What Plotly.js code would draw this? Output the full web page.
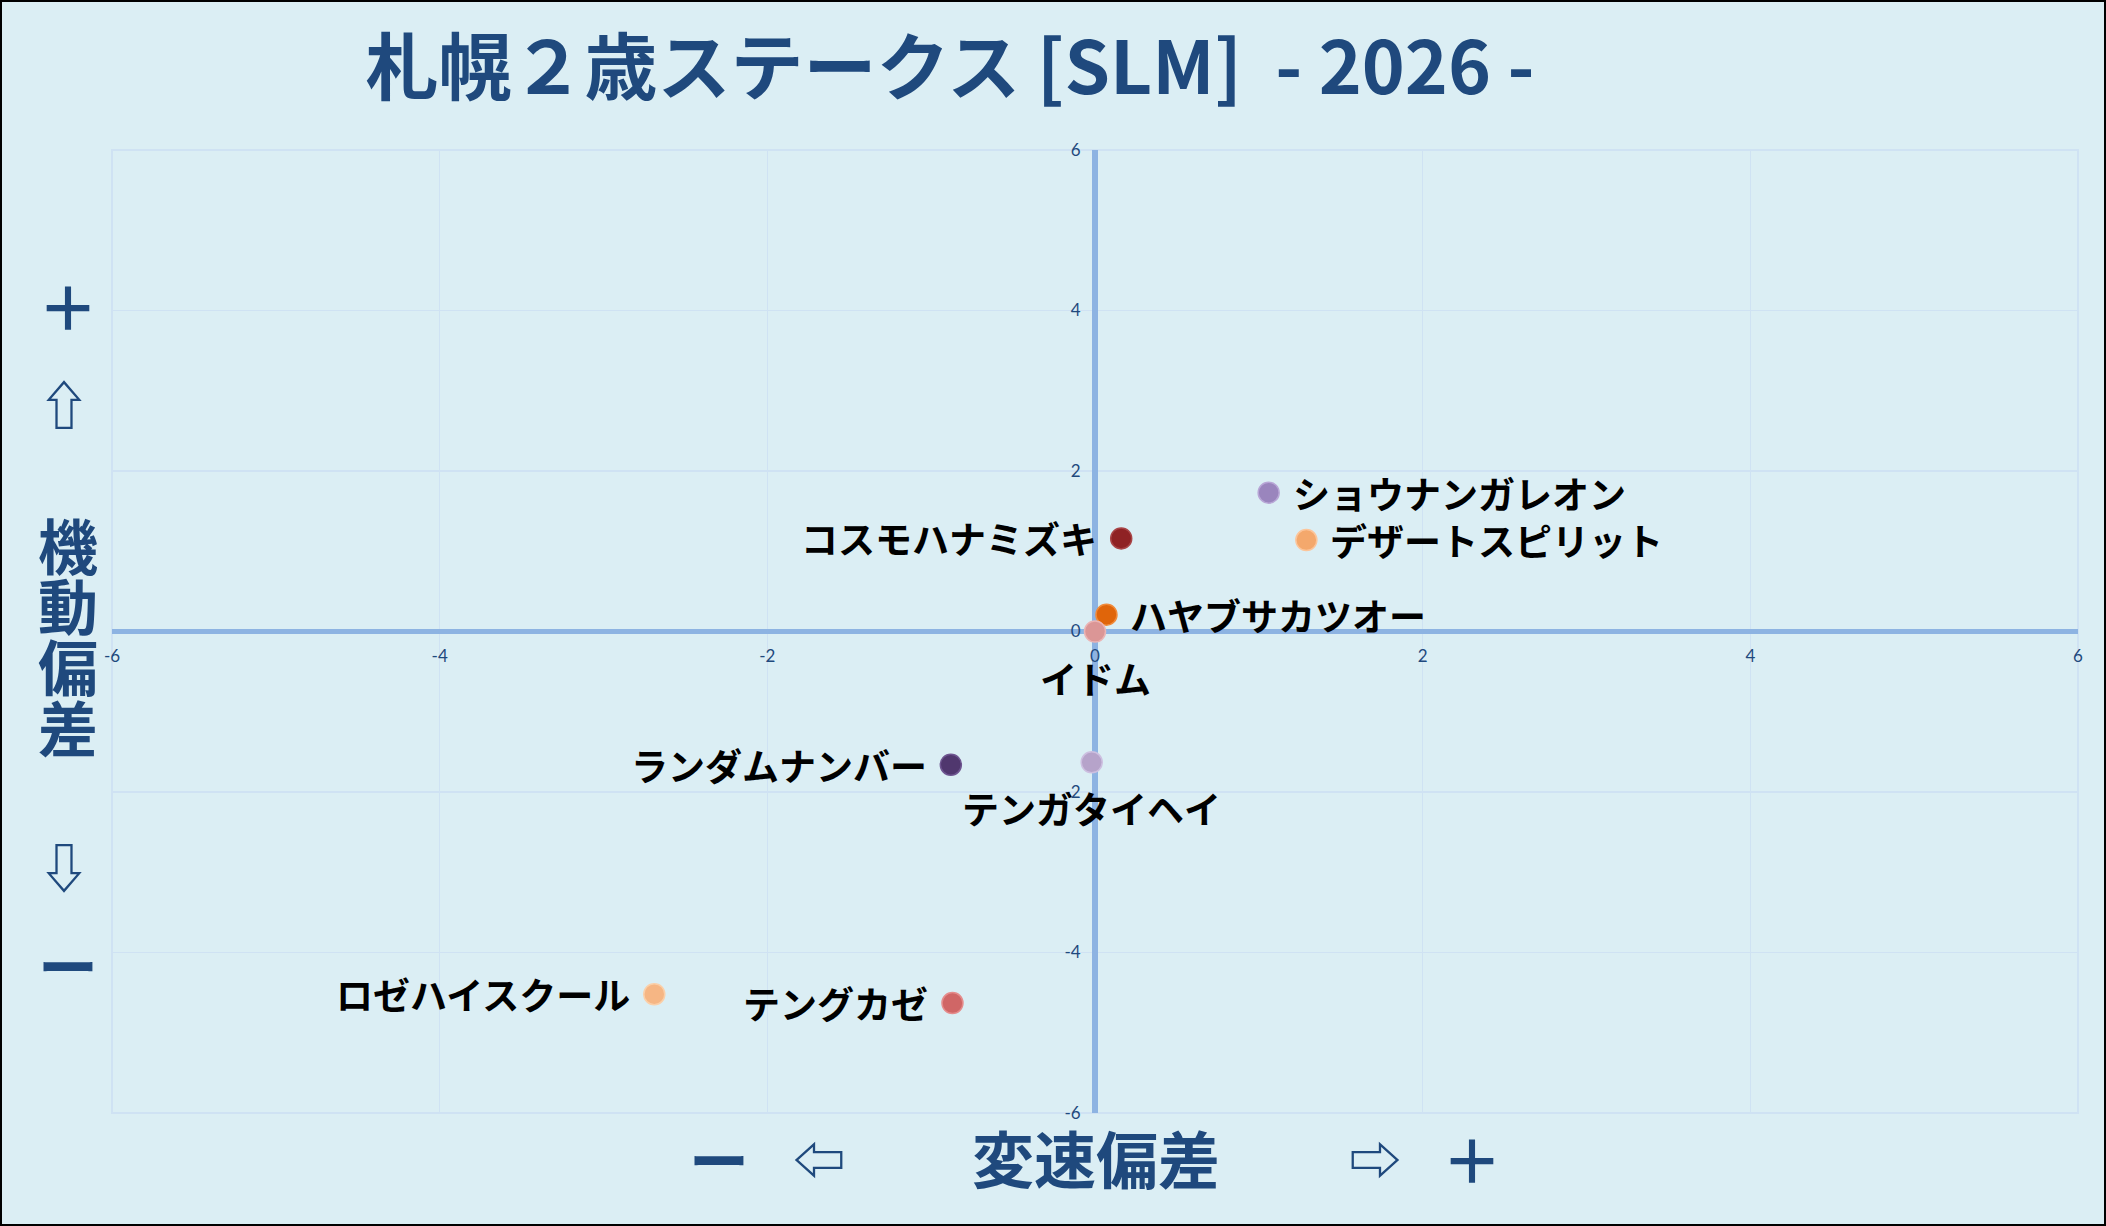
<!DOCTYPE html>
<html>
<head>
<meta charset="utf-8">
<script src="https://cdn.plot.ly/plotly-3.0.1.min.js"></script>
<style>
  html, body { margin: 0; padding: 0; background: #dbeef4; }
  #wrap { position: relative; width: 2106px; height: 1226px; }
  #chart { width: 2106px; height: 1226px; }
  #frame { position: absolute; left: 0; top: 0; width: 2106px; height: 1226px; box-sizing: border-box; border: 2px solid #000; pointer-events: none; z-index: 10; }
</style>
</head>
<body>
<div id="wrap"><div id="chart"></div><div id="frame"></div></div>
<script>
// ---- data ----
const horseNames = ['ショウナンガレオン','デザートスピリット','コスモハナミズキ','ハヤブサカツオー','イドム','ランダムナンバー','テンガタイヘイ','ロゼハイスクール','テングカゼ'];
const speedDev   = [1.06, 1.29, 0.16, 0.07, 0.00, -0.88, -0.02, -2.69, -0.87];   // 変速偏差 (x)
const mobilityDev= [1.73, 1.14, 1.16, 0.21, 0.00, -1.66, -1.63, -4.52, -4.63];   // 機動偏差 (y)
const labelSide  = ['right','right','left','right','below','left','below','left','left'];
const pointColors= ['#9a85bd','#f4a86c','#8f2224','#e0650a','#db9696','#50376e','#b6a3ca','#f6b684','#d06666'];
const pointEdges = ['#b8a6d6','#fcc59a','#a84446','#f08a3a','#ebb4b4','#6e5590','#cdbfe0','#fbcfa8','#e58c8c'];
const tickValues = [-6, -4, -2, 0, 2, 4, 6];
const chartTitle = '札幌２歳ステークス [SLM]  - 2026 -';
const xTitleParts = ['ー','⇦','変速偏差','⇨','＋'];
const yTitleParts = ['＋','⇧','機','動','偏','差','⇩','ー'];

// ---- layout helpers (pixel -> paper) ----
const W = 2106, H = 1226;
const M = {l: 112, r: 28, t: 150, b: 113};
const pw = W - M.l - M.r, ph = H - M.t - M.b;
const px = x => (x - M.l) / pw;
const py = y => (H - M.b - y) / ph;
const blue = '#1f497d';
const cjk = 'Noto Sans CJK JP, Noto Sans, sans-serif';

const trace = {
  type: 'scatter', mode: 'markers',
  x: speedDev, y: mobilityDev, text: horseNames,
  hoverinfo: 'skip',
  marker: {size: 21, color: pointColors, line: {color: pointEdges, width: 1.5}},
  cliponaxis: false
};

const annotations = [];
// point labels
for (let i = 0; i < horseNames.length; i++) {
  const a = {x: speedDev[i], y: mobilityDev[i], xref: 'x', yref: 'y', text: horseNames[i], showarrow: false,
    font: {family: cjk, size: 37, color: '#000000', weight: 'bold'}, yanchor: 'middle'};
  if (labelSide[i] === 'right') { a.xanchor = 'left'; a.xshift = 22; }
  else if (labelSide[i] === 'left') { a.xanchor = 'right'; a.xshift = -22; }
  else { a.xanchor = 'center'; a.yshift = -46; }
  annotations.push(a);
}
// x axis title pieces
const xTitlePos = [719, 819, 1096, 1375, 1472];
const xTitleSize = [60, 52, 62, 52, 60];
xTitleParts.forEach((t, i) => annotations.push({
  xref: 'paper', yref: 'paper', x: px(xTitlePos[i]), y: py(1157), xanchor: 'center', yanchor: 'middle',
  text: t, showarrow: false, font: {family: cjk, size: xTitleSize[i], color: blue, weight: 'bold'}
}));
// y axis title pieces
const yTitlePos = [304, 402, 543, 603, 664, 725, 865, 963];
const yTitleX = [68, 64, 68, 68, 68, 68, 64, 68];
const yTitleSize = [60, 52, 60, 60, 60, 60, 52, 60];
yTitleParts.forEach((t, i) => annotations.push({
  xref: 'paper', yref: 'paper', x: px(yTitleX[i]), y: py(yTitlePos[i]), xanchor: 'center', yanchor: 'middle',
  text: t, showarrow: false, font: {family: cjk, size: yTitleSize[i], color: blue, weight: 'bold'}
}));

const axisCommon = {
  range: [-6, 6], tickmode: 'array', tickvals: tickValues, ticktext: tickValues.map(String),
  showgrid: true, gridcolor: '#cfe2f3', gridwidth: 1.5,
  zeroline: true, zerolinecolor: '#8db3e2', zerolinewidth: 5.5,
  showline: false, anchor: 'free', position: 0.5,
  ticks: 'outside', ticklen: 9, tickcolor: 'rgba(0,0,0,0)',
  tickfont: {family: 'Lato, Open Sans, sans-serif', size: 17, color: blue},
  fixedrange: true
};

const layout = {
  width: W, height: H,
  paper_bgcolor: '#dbeef4', plot_bgcolor: '#dbeef4',
  margin: {l: M.l, r: M.r, t: M.t, b: M.b, pad: 0},
  showlegend: false,
  title: {text: chartTitle, x: 950 / W, xref: 'container', xanchor: 'center', y: 1 - 68 / H, yref: 'container', yanchor: 'middle',
          font: {family: cjk, size: 73, color: blue, weight: 'bold'}},
  xaxis: Object.assign({}, axisCommon),
  yaxis: Object.assign({}, axisCommon, {ticklen: 11}),
  shapes: [{type: 'rect', xref: 'paper', yref: 'paper', x0: 0, x1: 1, y0: 0, y1: 1, line: {color: '#cfe2f3', width: 2}, layer: 'below'}],
  annotations: annotations
};

Plotly.newPlot('chart', [trace], layout, {displayModeBar: false, staticPlot: true});
</script>
</body>
</html>
